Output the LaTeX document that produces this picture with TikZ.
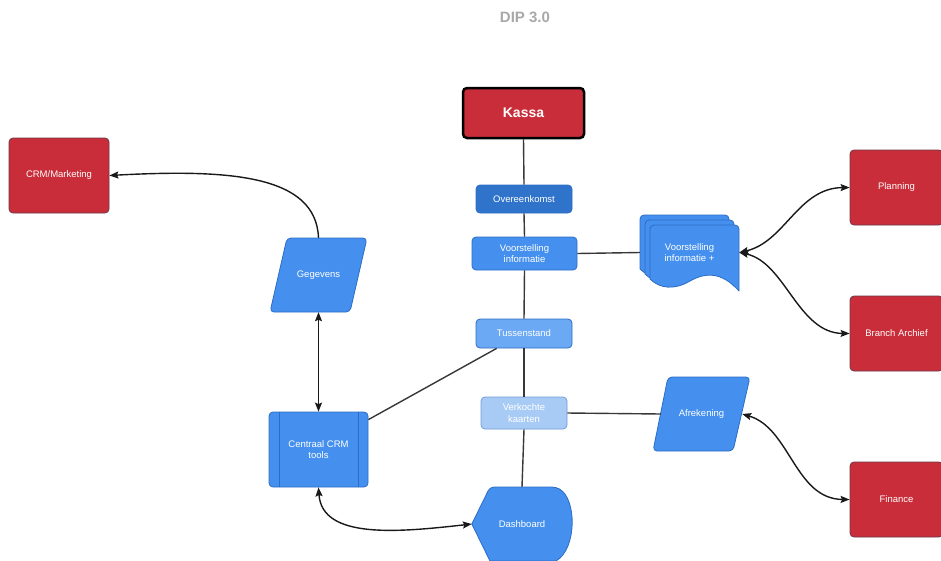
\documentclass[tikz,border=0pt]{standalone}
\usepackage{fontspec}
\setmainfont{Liberation Sans}
\usetikzlibrary{arrows.meta,calc,backgrounds}

\definecolor{crmred}{HTML}{C92D39}
\definecolor{redline}{HTML}{6B3A48}
\definecolor{blueA}{HTML}{4590EE}
\definecolor{blueLine}{HTML}{2C6CC4}
\definecolor{blueDark}{HTML}{2F73CA}
\definecolor{blueMid}{HTML}{6CA9F4}
\definecolor{blueLight}{HTML}{A8CBF6}
\definecolor{blueLightLine}{HTML}{6F9CD8}
\definecolor{titlegray}{HTML}{A8A8A8}
\definecolor{linegray}{HTML}{383838}

\begin{document}
\begin{tikzpicture}[x=1pt,y=-1pt,
  lbl/.style={font=\fontsize{9.5}{11.5}\selectfont, text=white, align=center, inner sep=0pt},
  redbox/.style={lbl, rectangle, rounded corners=4pt, fill=crmred, draw=redline,
                 line width=0.8pt, minimum width=93pt, minimum height=75pt},
  bluebox/.style={lbl, rectangle, rounded corners=4pt, fill=blueA, draw=blueLine, line width=0.8pt},
  textonly/.style={lbl, rectangle, draw=none, fill=none},
  shapefill/.style={fill=blueA, draw=blueLine, line width=0.8pt, line join=round},
  flow/.style={draw=linegray, line width=1.4pt},
  tip/.tip={Stealth[length=9pt,width=7pt,inset=1.5pt]},
  oneway/.style={draw=black!90, line width=1.4pt, -tip},
  twoway/.style={draw=black!90, line width=1.4pt, tip-tip},
]
\useasboundingbox (0,0) rectangle (941,560);

% title
\node[font=\fontsize{15}{17}\selectfont\bfseries, text=titlegray] (title) at (525,17) {DIP 3.0};

% central column
\node[rectangle, rounded corners=4pt, fill=crmred, draw=black, line width=2.5pt,
      minimum width=121pt, minimum height=50pt, text=white,
      font=\fontsize{14}{16}\selectfont\bfseries] (kassa) at (523.5,113) {Kassa};
\node[bluebox, fill=blueDark, draw=blueLine, minimum width=96pt, minimum height=28pt] (ov) at (524,199) {Overeenkomst};
\node[bluebox, minimum width=105pt, minimum height=33pt] (vi) at (524.5,253.5) {Voorstelling\\informatie};
\node[bluebox, fill=blueMid, draw=blueLine, minimum width=96pt, minimum height=29pt] (tus) at (524,333.5) {Tussenstand};
\node[bluebox, fill=blueLight, draw=blueLightLine, minimum width=86pt, minimum height=32pt] (vk) at (524,413) {Verkochte\\kaarten};
\node[textonly, minimum width=100pt, minimum height=74pt] (dash) at (522,524) {Dashboard};

% left column
\node[redbox, minimum width=100pt] (mkt) at (59,175.5) {CRM/Marketing};
\node[textonly, minimum width=97pt, minimum height=74pt] (geg) at (318.5,275) {Gegevens};
\node[bluebox, minimum width=99pt, minimum height=75pt] (crm) at (318.5,449.5) {Centraal CRM\\tools};
% inner bars of the predefined process
\draw[blueLine, line width=0.8pt] ([xshift=11pt]crm.north west) -- ([xshift=11pt]crm.south west);
\draw[blueLine, line width=0.8pt] ([xshift=-10pt]crm.north east) -- ([xshift=-10pt]crm.south east);

% right column
\node[textonly, minimum width=99pt, minimum height=75pt] (vp) at (689.5,252.5) {Voorstelling\\informatie +};
\node[textonly, minimum width=97pt, minimum height=74pt] (afr) at (701.5,414) {Afrekening};
\node[redbox] (plan) at (896.5,187.5) {Planning};
\node[redbox] (branch) at (896.5,333.5) {Branch Archief};
\node[redbox] (fin) at (896.5,499.5) {Finance};

% outlines of the special shapes
\begin{scope}[on background layer]
  % Gegevens (data)
  \path[shapefill, rounded corners=4pt] (287,238) -- (367,238) -- (350,312) -- (270,312) -- cycle;
  % Afrekening (data)
  \path[shapefill, rounded corners=4pt] (668,377) -- (750,377) -- (733,451) -- (653,451) -- cycle;
  % Dashboard (display)
  \path[shapefill] (dash.west) [rounded corners=4pt] -- (490,487) -- (556,487) [sharp corners]
     .. controls (577,499) and (577,549) .. (556,561) -- (490,561) -- cycle;
  % stacked documents
  \foreach \d in {10,5,0}{
    \path[shapefill] (650-\d,279-\d) [rounded corners=4pt] -- (650-\d,225-\d) -- (739-\d,225-\d)
       [sharp corners] -- (739-\d,291-\d)
       .. controls (722-\d,272-\d) and (706-\d,272-\d) .. (690-\d,281-\d)
       .. controls (675-\d,290-\d) and (660-\d,289-\d) .. (650-\d,279-\d) -- cycle;
  }
\end{scope}

% spine
\draw[flow] (kassa.south) -- (ov.north);
\draw[flow] (ov.south) -- (vi.north);
\draw[flow] (vi.south) -- (tus.north);
\draw[flow] (tus.south) -- (vk.north);
\draw[flow] (vk.south) -- (dash.north);

% side links
\draw[flow] (vi.east) -- (vp.west);
\draw[flow] (vk.east) -- ([xshift=8pt]afr.west);
\draw[flow] ([xshift=21pt]tus.south west) -- ([yshift=-8pt]crm.north east);

% arrows
\draw[oneway] (geg.north) .. controls (316,175) and (230,169) .. (mkt.east);
\draw[twoway] (geg.south) -- (crm.north);
\draw[twoway] (crm.south) .. controls (322,540) and (400,532) .. (dash.west);
\draw[twoway] (vp.east) .. controls (785,242) and (798,188) .. (plan.west);
\draw[twoway] (vp.east) .. controls (785,262) and (798,333) .. (branch.west);
\draw[twoway] ([xshift=-8pt]afr.east) .. controls (790,428) and (795,499) .. (fin.west);
\end{tikzpicture}
\end{document}
